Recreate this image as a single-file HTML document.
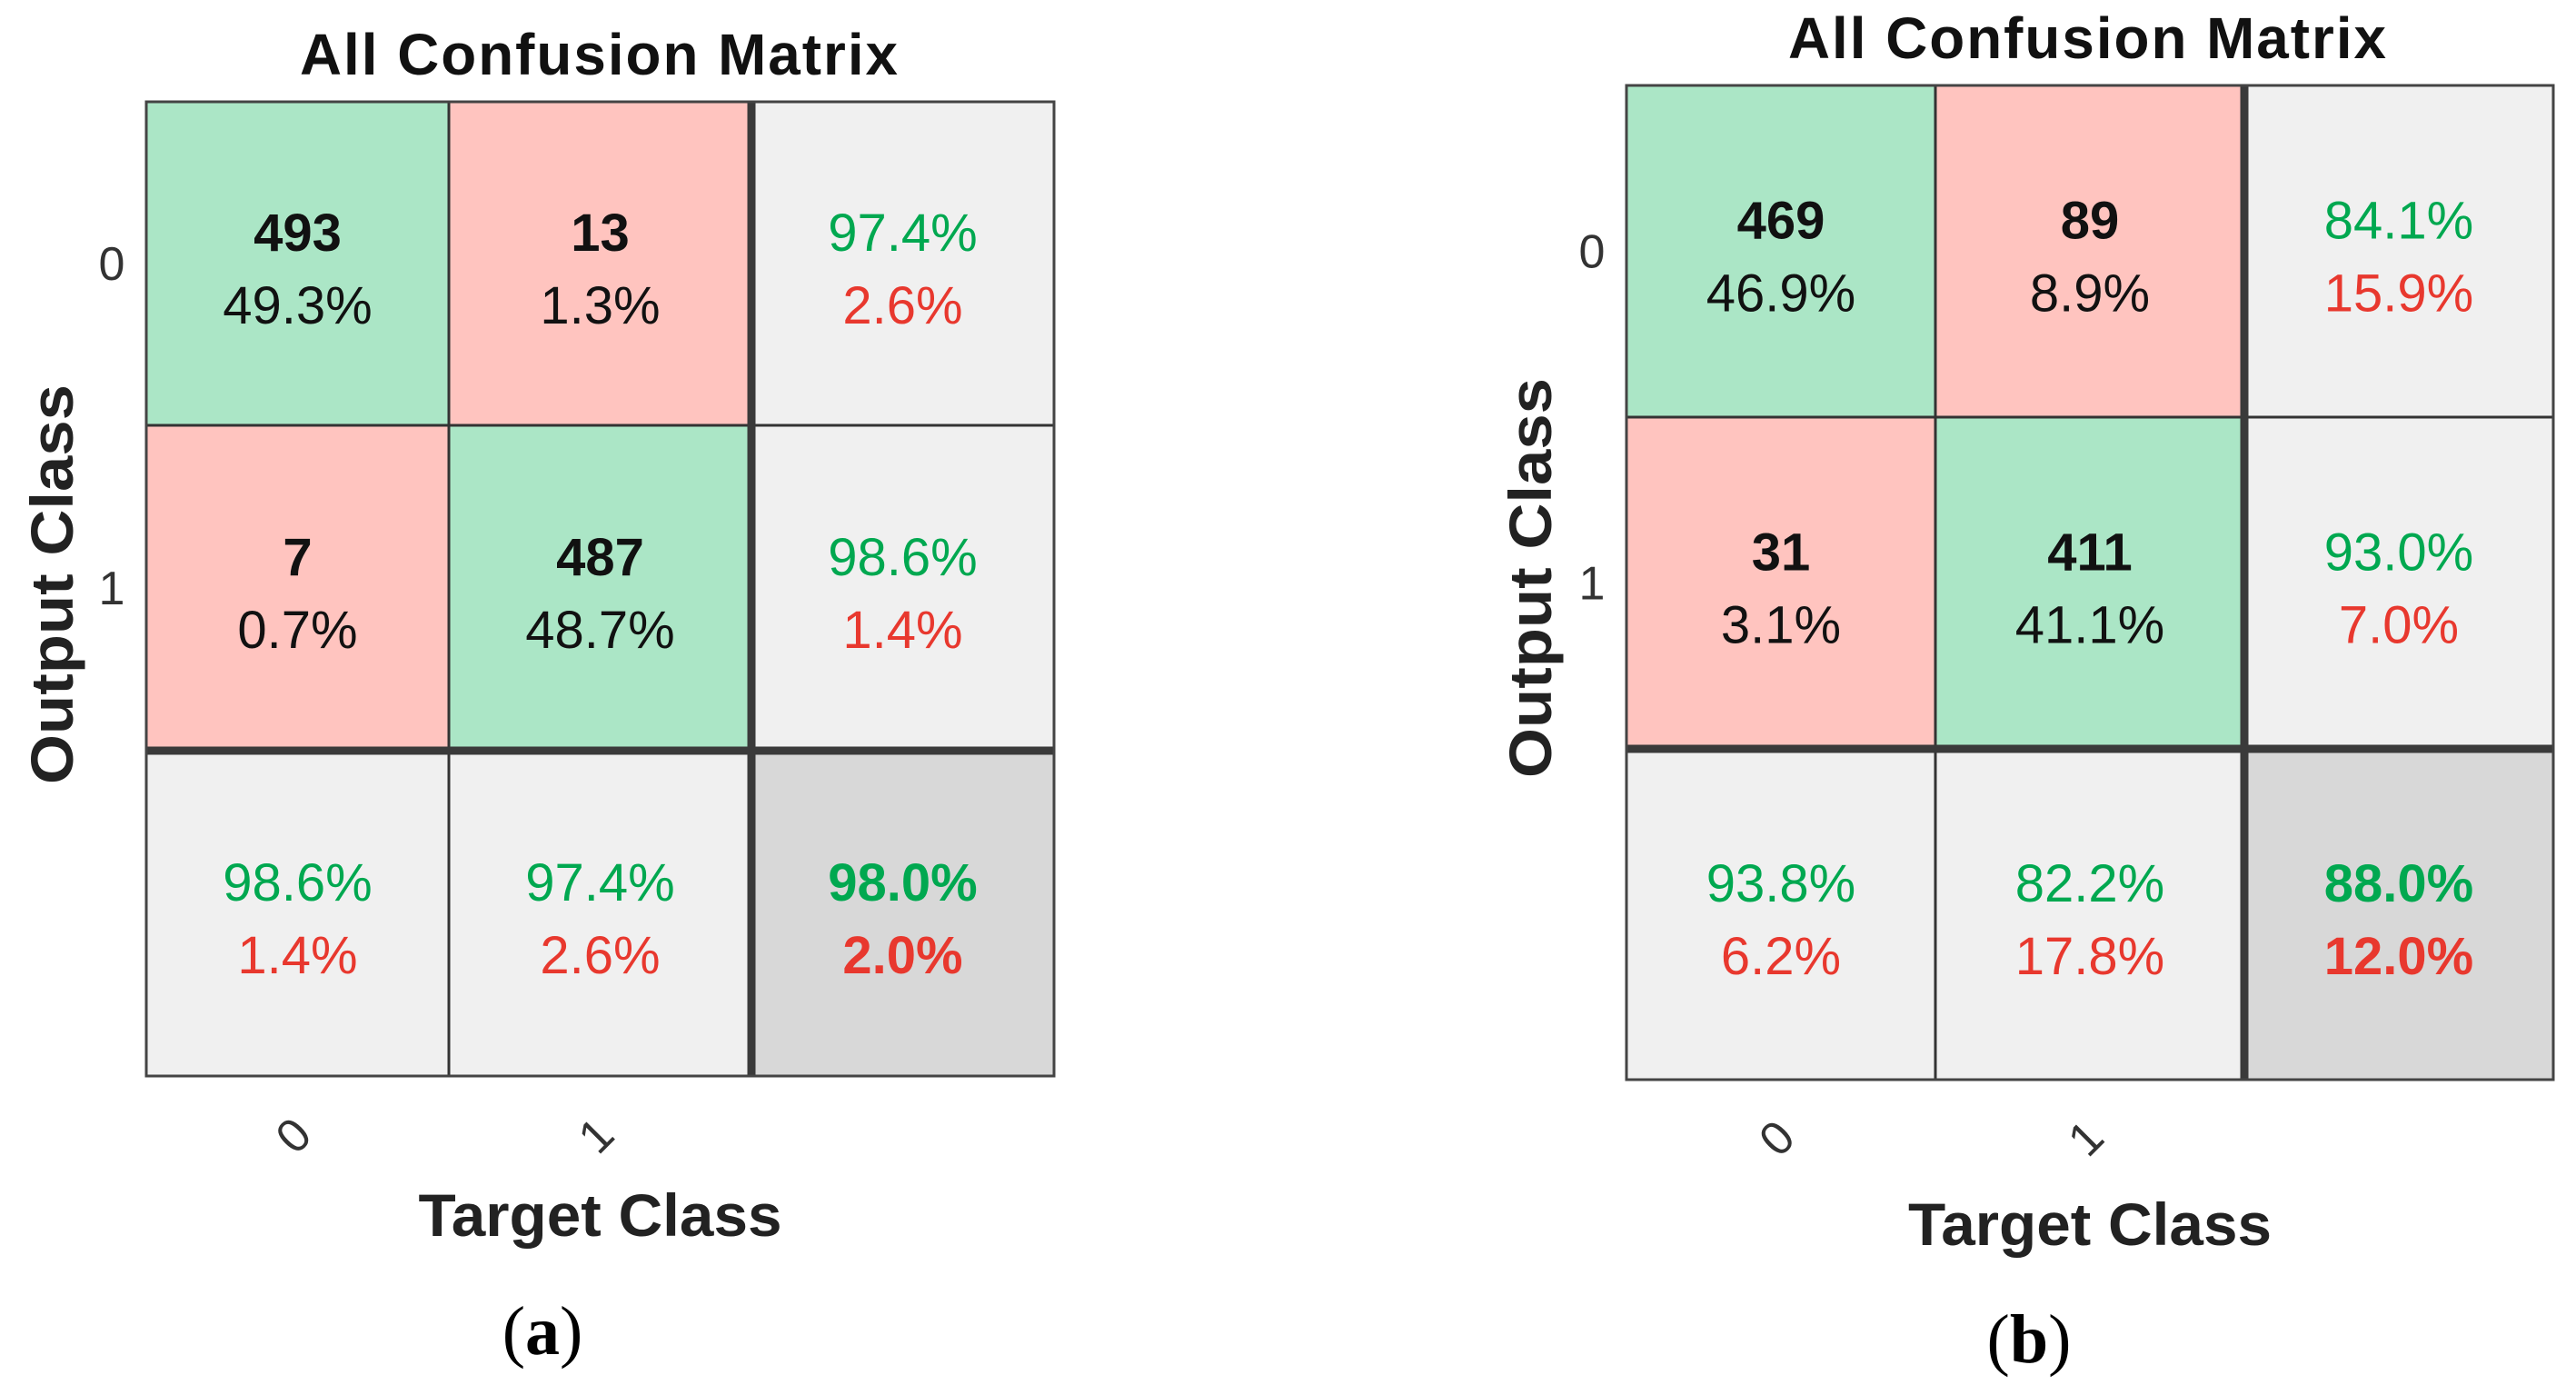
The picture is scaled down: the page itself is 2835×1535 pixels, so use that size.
<!DOCTYPE html>
<html><head><meta charset="utf-8"><style>
html,body{margin:0;padding:0;background:#fff;}
svg{display:block;font-family:"Liberation Sans",Arial,sans-serif;}
</style></head><body>
<svg id="fig" width="2835" height="1535" viewBox="0 0 2835 1535"></svg>
<script>
const classLabels = ["0","1"];
const countsA = [[493,13],[7,487]];
const pctA = ["49.3%","1.3%","0.7%","48.7%"];
const rowSummaryA = [["97.4%","2.6%"],["98.6%","1.4%"]];
const colSummaryA = [["98.6%","1.4%"],["97.4%","2.6%"]];
const totalA = ["98.0%","2.0%"];
const countsB = [[469,89],[31,411]];
const pctB = ["46.9%","8.9%","3.1%","41.1%"];
const rowSummaryB = [["84.1%","15.9%"],["93.0%","7.0%"]];
const colSummaryB = [["93.8%","6.2%"],["82.2%","17.8%"]];
const totalB = ["88.0%","12.0%"];

const NS="http://www.w3.org/2000/svg";
const svg=document.getElementById('fig');
function mk(tag,attrs,parent,text){const e=document.createElementNS(NS,tag);for(const k in attrs)e.setAttribute(k,attrs[k]);if(text!==undefined)e.textContent=text;(parent||svg).appendChild(e);return e;}

function panel(id,xs,ys,counts,pct,rowS,colS,tot,lay){
  const g=mk('g',{});
  
  
  const GREEN='#00a850',RED='#e8382e';
  function cellText(cx,cy,l1,l2,c1,c2,b1,b2,nm){
    const t1=mk('text',{x:cx,y:cy-14,'text-anchor':'middle','font-size':58,fill:c1,'font-weight':b1?'bold':'normal'},g,l1);
    
    
    const t2=mk('text',{x:cx,y:cy+66,'text-anchor':'middle','font-size':58,fill:c2,'font-weight':b2?'bold':'normal'},g,l2);
    
    
  }
  for(let r=0;r<3;r++)for(let c=0;c<3;c++){
    let fill;
    if(r<2&&c<2) fill=(r===c)?'#abe6c6':'#ffc4bf';
    else if(r===2&&c===2) fill='#d8d8d8';
    else fill='#f0f0f0';
    const rc=mk('rect',{x:xs[c],y:ys[r],width:xs[c+1]-xs[c],height:ys[r+1]-ys[r],fill:fill},g);
    
    
    const cx=(xs[c]+xs[c+1])/2, cy=(ys[r]+ys[r+1])/2;
    if(r<2&&c<2) cellText(cx,cy,String(counts[r][c]),pct[r*2+c],'#111','#111',true,false,'cell-r'+r+'-c'+c);
    else if(c===2&&r<2) cellText(cx,cy,rowS[r][0],rowS[r][1],GREEN,RED,false,false,'row-summary-'+r);
    else if(r===2&&c<2) cellText(cx,cy,colS[c][0],colS[c][1],GREEN,RED,false,false,'col-summary-'+c);
    else cellText(cx,cy,tot[0],tot[1],GREEN,RED,true,true,'overall-accuracy');
  }
  [xs[1]].forEach(x=>mk('line',{x1:x,y1:ys[0],x2:x,y2:ys[3],stroke:'#333','stroke-width':3},g));
  [ys[1]].forEach(y=>mk('line',{x1:xs[0],y1:y,x2:xs[3],y2:y,stroke:'#333','stroke-width':3},g));
  mk('line',{x1:xs[2],y1:ys[0],x2:xs[2],y2:ys[3],stroke:'#3a3a3a','stroke-width':9},g);
  mk('line',{x1:xs[0],y1:ys[2],x2:xs[3],y2:ys[2],stroke:'#3a3a3a','stroke-width':9},g);
  mk('rect',{x:xs[0],y:ys[0],width:xs[3]-xs[0],height:ys[3]-ys[0],fill:'none',stroke:'#444','stroke-width':3},g);
  const title=mk('text',{x:lay.titleX,y:lay.titleY,'text-anchor':'middle','font-size':64,'font-weight':'bold',fill:'#111','letter-spacing':'2',textLength:660,lengthAdjust:'spacingAndGlyphs'},g,'All Confusion Matrix');
  
  
  classLabels.forEach((lab,i)=>{
    const cy=(ys[i]+ys[i+1])/2;
    const yt=mk('text',{x:lay.ytickX,y:cy+18,'text-anchor':'middle','font-size':52,fill:'#333'},g,lab);
    
    
    const cx=(xs[i]+xs[i+1])/2;
    const xt=mk('text',{x:0,y:0,'text-anchor':'middle','font-size':52,fill:'#333',transform:'translate('+(cx+8)+','+(lay.xtickY)+') rotate(-45)'},g,lab);
    
    
  });
  const yl=mk('text',{x:0,y:0,'text-anchor':'middle','font-size':66,'font-weight':'bold',fill:'#222',textLength:440,lengthAdjust:'spacingAndGlyphs',transform:'translate('+lay.ylabX+','+((ys[0]+ys[3])/2-5)+') rotate(-90)'},g,'Output Class');
  
  
  const xl=mk('text',{x:(xs[0]+xs[3])/2,y:lay.xlabY,'text-anchor':'middle','font-size':66,'font-weight':'bold',fill:'#222',textLength:400,lengthAdjust:'spacingAndGlyphs'},g,'Target Class');
  
  
  const cap=mk('text',{x:lay.capX,y:lay.capY,'text-anchor':'middle','font-size':76,fill:'#000','font-family':'"Liberation Serif",serif'},g);
  
  
  mk('tspan',{},cap,'(');
  mk('tspan',{'font-weight':'bold'},cap,id);
  mk('tspan',{},cap,')');
}
panel('a',[161,494,827,1160],[112,468,826,1184],countsA,pctA,rowSummaryA,colSummaryA,totalA,
  {titleX:660,titleY:82,ytickX:123,xtickY:1262,ylabX:80,xlabY:1360,capX:597,capY:1490});
panel('b',[1790,2130,2470,2810],[94,459,824,1188],countsB,pctB,rowSummaryB,colSummaryB,totalB,
  {titleX:2298,titleY:64,ytickX:1752,xtickY:1265,ylabX:1707,xlabY:1370,capX:2233,capY:1499});
</script>
</body></html>
